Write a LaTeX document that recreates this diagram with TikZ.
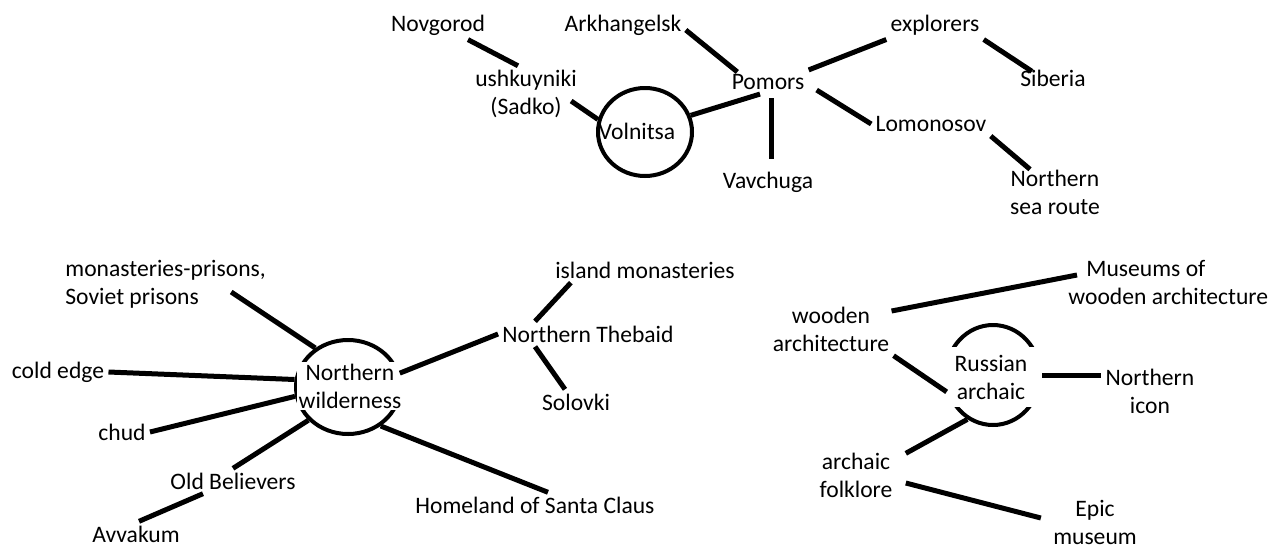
\documentclass[tikz,border=0pt]{standalone}
\usepackage{fontspec}
\setmainfont{Carlito}
\usetikzlibrary{shapes.geometric, calc}

\tikzset{
  word/.style={font=\fontsize{11.8pt}{14pt}\selectfont, align=center, inner sep=2pt},
  hub/.style={draw, ellipse, line width=2pt},
  hubtext/.style={word, fill=white, inner sep=1pt},
  link/.style={line width=2.5pt}
}

\begin{document}
\begin{tikzpicture}[x=0.5pt, y=-0.5pt]
  \useasboundingbox (0,0) rectangle (1269,547);

  % Volnitsa and Pomors
  \node[hub, minimum width=47pt, minimum height=44pt] (volc) at (645,132) {};
  \node[word] (voltxt) at (637,131) {Volnitsa};
  \node[word] (nov) at (438,25) {Novgorod};
  \node[word] (ushk) at (526,94) {ushkuyniki\\(Sadko)};
  \node[word] (ark) at (623,25) {Arkhangelsk};
  \node[word] (pom) at (768,82) {Pomors};
  \node[word] (vav) at (768,182) {Vavchuga};
  \node[word] (expl) at (935,25) {explorers};
  \node[word] (sib) at (1053,78) {Siberia};
  \node[word] (lom) at (931,124) {Lomonosov};
  \node[word] (nsr) at (1055,192) {Northern\\sea route};

  % Northern wilderness
  \node[hub, minimum width=52pt, minimum height=47pt] (wild) at (348,387) {};
  \node[hubtext, minimum width=53pt] (wildtxt) at (350,386) {Northern\\wilderness};
  \node[word, align=left, anchor=west] (mon) at (61,284) {monasteries-prisons,\\Soviet prisons};
  \node[word] (cold) at (58,372) {cold edge};
  \node[word] (chud) at (122,432) {chud};
  \node[word] (oldb) at (233,481) {Old Believers};
  \node[word] (avv) at (136,534) {Avvakum};
  \node[word] (theb) at (588,334) {Northern Thebaid};
  \node[word] (isl) at (645,270) {island monasteries};
  \node[word] (sol) at (576,402) {Solovki};
  \node[word] (santa) at (535,505) {Homeland of Santa Claus};

  % Russian archaic
  \node[hub, minimum width=47pt, minimum height=50pt] (rus) at (993,375) {};
  \node[hubtext, minimum width=51pt, minimum height=30pt] (rustxt) at (991,377) {Russian\\archaic};
  \node[word, align=left, anchor=west] (mus) at (1064,282) {\hspace*{9pt}Museums of\\wooden architecture};
  \node[word] (wood) at (831,329) {wooden\\architecture};
  \node[word] (icon) at (1150,391) {Northern\\icon};
  \node[word] (folk) at (856,475) {archaic\\folklore};
  \node[word] (epic) at (1095,522) {Epic\\museum};

  \draw[link] ($(nov.south)+(30,0)$) -- ($(ushk.north)+(-8,0)$);
  \draw[link] ($(ushk.east)+(-10,7)$) -- (volc.165);
  \draw[link] (volc.20) -- ($(pom.south)+(-8,0)$);
  \draw[link] ($(ark.east)+(0,5)$) -- ($(pom.north west)+(10,2)$);
  \draw[link] ($(pom.south)+(3,4)$) -- ($(vav.north)+(3,-8)$);
  \draw[link] (pom.north east) -- (expl.south west);
  \draw[link] (expl.south east) -- ($(sib.north west)+(16,6)$);
  \draw[link] ($(pom.south east)+(8,-4)$) -- (lom.west);
  \draw[link] (lom.south east) -- ($(nsr.north)+(-25,4)$);

  \draw[link] ($(mon.east)+(-39,8)$) -- (wild.130);
  \draw[link] (cold.east) -- (wild.172);
  \draw[link] (chud.east) -- (wild.190);
  \draw[link] (oldb.north) -- (wild.220);
  \draw[link] ($(avv.north)+(3,0)$) -- ($(oldb.south)+(-30,0)$);
  \draw[link] (wild.15) -- (theb.west);
  \draw[link] ($(theb.north)+(-53,0)$) -- ($(isl.south west)+(20,0)$);
  \draw[link] ($(theb.south)+(-53,0)$) -- ($(sol.north)+(-11,0)$);
  \draw[link] (wild.-50) -- ($(santa.north)+(13,0)$);

  \draw[link] ($(wood.east)+(-2,-18)$) -- ($(mus.west)+(13,-7)$);
  \draw[link] (wood.south east) -- (rus.200);
  \draw[link] (rus.east) -- (rus.east -| icon.west);
  \draw[link] ($(folk.north east)+(9,5)$) -- (rus.240);
  \draw[link] ($(folk.east)+(9,8)$) -- ($(epic.west)+(-8,-4)$);
\end{tikzpicture}
\end{document}
